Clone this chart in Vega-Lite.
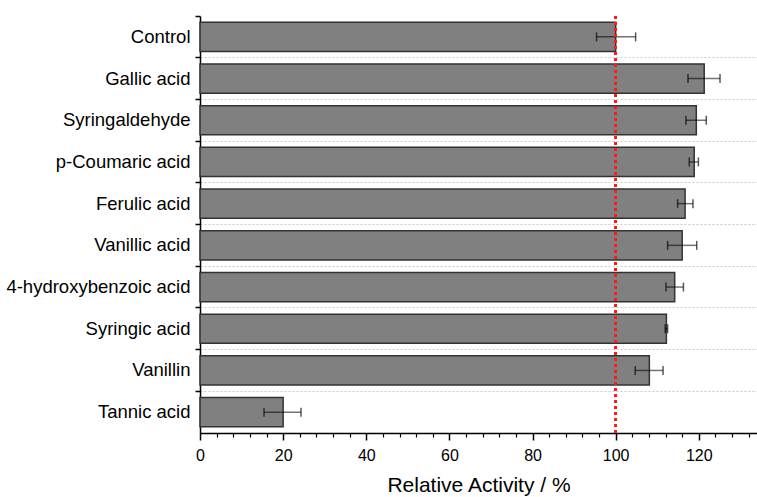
{
  "$schema": "https://vega.github.io/schema/vega-lite/v6.json",
  "width": 557,
  "height": 417,
  "autosize": {"type": "none"},
  "padding": {"left": 200, "top": 16, "right": 0, "bottom": 64},
  "background": "white",
  "config": {
    "view": {"stroke": null},
    "font": "Liberation Sans",
    "axis": {"labelFont": "Liberation Sans", "titleFont": "Liberation Sans"}
  },
  "data": {
    "values": [
      {"name": "Control", "value": 100, "lo": 95.4, "hi": 104.8},
      {"name": "Gallic acid", "value": 121.3, "lo": 117.4, "hi": 125.1},
      {"name": "Syringaldehyde", "value": 119.4, "lo": 116.9, "hi": 121.8},
      {"name": "p-Coumaric acid", "value": 118.9, "lo": 117.7, "hi": 119.9},
      {"name": "Ferulic acid", "value": 116.7, "lo": 114.9, "hi": 118.6},
      {"name": "Vanillic acid", "value": 116.0, "lo": 112.5, "hi": 119.5},
      {"name": "4-hydroxybenzoic acid", "value": 114.2, "lo": 112.1, "hi": 116.3},
      {"name": "Syringic acid", "value": 112.2, "lo": 111.9, "hi": 112.5},
      {"name": "Vanillin", "value": 108.1, "lo": 104.7, "hi": 111.4},
      {"name": "Tannic acid", "value": 20.0, "lo": 15.4, "hi": 24.3}
    ]
  },
  "resolve": {"axis": {"x": "independent"}},
  "layer": [
    {
      "mark": {"type": "bar", "fill": "#808080", "stroke": "#333333", "strokeWidth": 1.5, "height": {"band": 0.7}},
      "encoding": {
        "y": {
          "field": "name", "type": "nominal", "sort": null,
          "scale": {"paddingInner": 0, "paddingOuter": 0},
          "axis": {
            "title": null, "bandPosition": 0, "grid": true,
            "gridColor": "#c8c8c8", "gridDash": [2, 2], "gridWidth": 1,
            "gridOpacity": {"condition": {"test": "datum.value === 'Control'", "value": 0}, "value": 1},
            "domainColor": "#000000", "domainWidth": 1.5,
            "tickColor": "#000000", "tickWidth": 1.5, "tickSize": 5,
            "labelFontSize": 18.5, "labelColor": "#000000", "labelPadding": 5, "labelLimit": 260
          }
        },
        "x": {
          "field": "value", "type": "quantitative",
          "scale": {"domain": [0, 134], "nice": false, "zero": true},
          "axis": {
            "orient": "bottom", "title": "Relative Activity / %",
            "values": [0, 20, 40, 60, 80, 100, 120], "labelFlush": false,
            "grid": false, "domainColor": "#000000", "domainWidth": 1.5,
            "tickColor": "#000000", "tickWidth": 1.5, "tickSize": 7,
            "labelFontSize": 16, "labelColor": "#000000", "labelPadding": 7,
            "titleFontSize": 21, "titleFontWeight": "normal", "titleColor": "#000000", "titlePadding": 11
          }
        }
      }
    },
    {
      "mark": {"type": "rule", "color": "#000000", "opacity": 0.55, "strokeWidth": 1.5},
      "encoding": {
        "y": {"field": "name", "type": "nominal", "sort": null},
        "x": {"field": "lo", "type": "quantitative", "axis": null},
        "x2": {"field": "hi"}
      }
    },
    {
      "mark": {"type": "tick", "color": "#000000", "opacity": 0.65, "thickness": 1.5, "size": 9},
      "encoding": {
        "y": {"field": "name", "type": "nominal", "sort": null},
        "x": {"field": "lo", "type": "quantitative", "axis": null}
      }
    },
    {
      "mark": {"type": "tick", "color": "#000000", "opacity": 0.65, "thickness": 1.5, "size": 9},
      "encoding": {
        "y": {"field": "name", "type": "nominal", "sort": null},
        "x": {"field": "hi", "type": "quantitative", "axis": null}
      }
    },
    {
      "mark": {"type": "rule", "color": "#ff1a1a", "strokeWidth": 2, "strokeDash": [3, 3]},
      "encoding": {
        "x": {
          "datum": 100, "type": "quantitative",
          "axis": {
            "orient": "bottom", "title": null, "labels": false, "domain": false, "grid": false,
            "values": [4, 8, 12, 16, 24, 28, 32, 36, 44, 48, 52, 56, 64, 68, 72, 76, 84, 88, 92, 96, 104, 108, 112, 116, 124, 128, 132],
            "tickColor": "#000000", "tickWidth": 1.2, "tickSize": 4
          }
        }
      }
    }
  ]
}
